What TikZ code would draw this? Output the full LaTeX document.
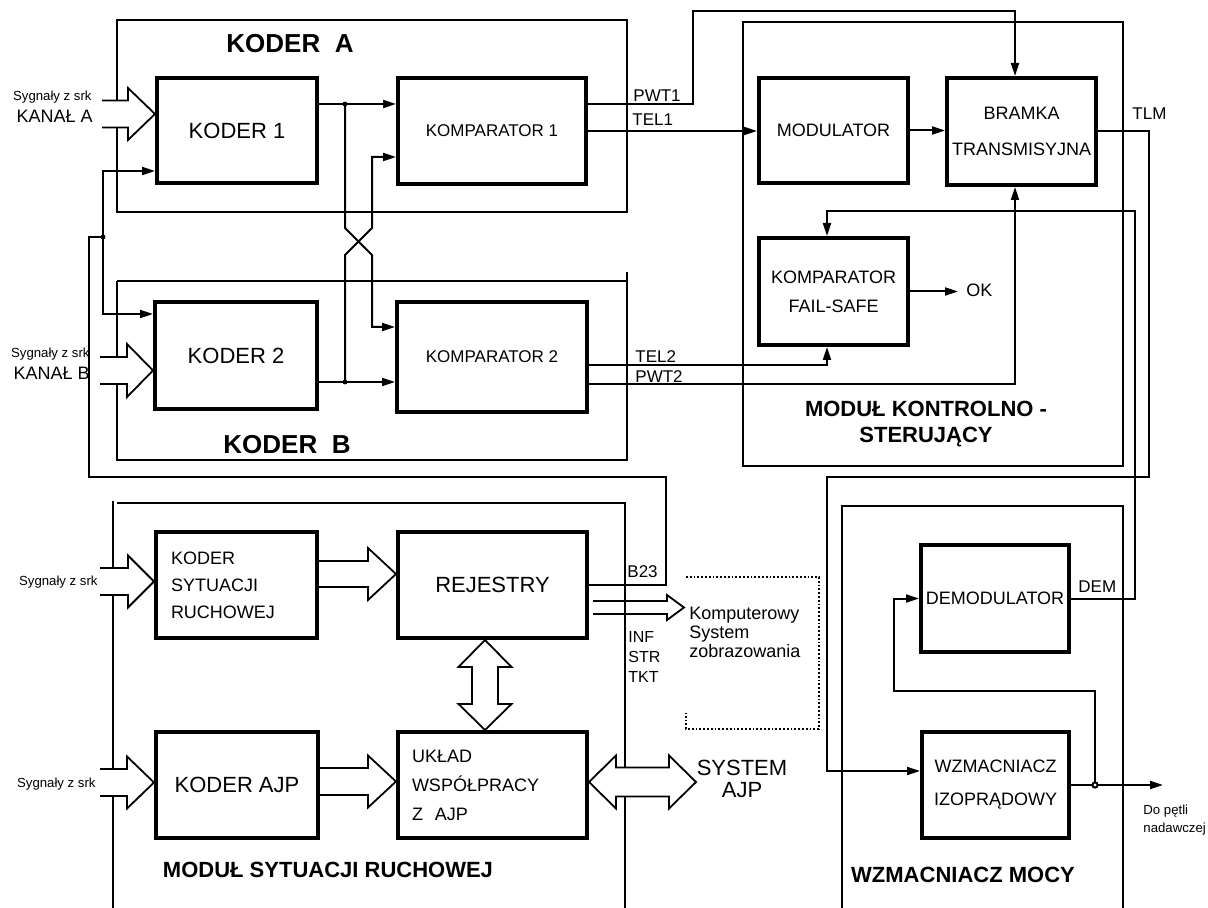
\documentclass[tikz,border=0pt]{standalone}
\usepackage{fontspec}
\setmainfont{Liberation Sans}
\usetikzlibrary{arrows.meta,calc}

% gruba strzalka: start, grot, dl. grota, pol. szyny, pol. grota
\newcommand{\grubaszyna}[5]{%
  \filldraw[gruba] let \p1=#1, \p2=#2 in
    (\x1,\y2+#4) -- (\x2-#3,\y2+#4) -- (\x2-#3,\y2+#5) -- (\x2,\y2)
    -- (\x2-#3,\y2-#5) -- (\x2-#3,\y2-#4) -- (\x1,\y2-#4);}

\tikzset{
  blok/.style={draw, line width=2pt, inner sep=0pt, align=center, font=\fontsize{9}{11}\selectfont},
  duzy/.style={font=\fontsize{11}{13}\selectfont},
  modul/.style={line width=0.65pt},
  pol/.style={line width=1pt},
  strz/.style={-{Triangle[length=6.5pt,width=4pt]}},
  gruba/.style={line width=0.9pt, fill=white},
  kropki/.style={line width=0.9pt, densely dotted},
  opis/.style={inner sep=0pt, font=\fontsize{8.5}{10}\selectfont},
  maly/.style={inner sep=0pt, font=\fontsize{6.6}{9}\selectfont},
  tytul/.style={inner sep=0pt, font=\bfseries\fontsize{11}{13}\selectfont},
}

\begin{document}
\begin{tikzpicture}[x=0.5pt, y=-0.5pt]
    \useasboundingbox (0,0) rectangle (1208,908);

    % bloki
    \node[blok, duzy, minimum width=80pt, minimum height=52.5pt] (kod1) at (237,130.5) {KODER 1};
    \node[blok, font=\fontsize{8.5}{10}\selectfont, minimum width=94pt, minimum height=53pt] (kom1) at (492,131) {KOMPARATOR 1};
    \node[blok, duzy, minimum width=81pt, minimum height=53.5pt] (kod2) at (236,355.5) {KODER 2};
    \node[blok, font=\fontsize{8.5}{10}\selectfont, minimum width=95pt, minimum height=55pt] (kom2) at (492,357) {KOMPARATOR 2};
    \node[blok, minimum width=74.5pt, minimum height=52.5pt] (mod) at (833.5,130.5) {MODULATOR};
    \node[blok, minimum width=74.5pt, minimum height=53.5pt] (bram) at (1021.5,131.5) {BRAMKA\\[7pt]TRANSMISYJNA};
    \node[blok, minimum width=74.5pt, minimum height=53.5pt] (fs) at (833.5,291.5) {KOMPARATOR\\[3.5pt]FAIL-SAFE};
    \node[blok, align=left, text width=65.5pt, inner xsep=7.5pt, minimum height=53pt] (syt) at (236.5,585) {KODER\\[2.5pt]SYTUACJI\\[2.5pt]RUCHOWEJ};
    \node[blok, duzy, minimum width=94.5pt, minimum height=53pt] (rej) at (492.5,585) {REJESTRY};
    \node[blok, duzy, minimum width=81pt, minimum height=53pt] (ajp) at (237,785) {KODER AJP};
    \node[blok, align=left, text width=80.5pt, inner xsep=7pt, minimum height=53pt] (ukl) at (492.5,785) {UKŁAD\\[3.5pt]WSPÓŁPRACY\\[3.5pt]Z\ \ AJP};
    \node[blok, minimum width=74pt, minimum height=53.5pt] (dem) at (995,598.5) {DEMODULATOR};
    \node[blok, minimum width=73.5pt, minimum height=53pt] (wzm) at (995.5,785) {WZMACNIACZ\\[5.5pt]IZOPRĄDOWY};

    % do systemu zobrazowania
    \coordinate (kz) at (684,607.5);
    \grubaszyna{([xshift=2pt]rej.east)}{(kz)}{8.5pt}{3.25pt}{6.25pt}

    % moduly
    \draw[modul] (117,20) rectangle (627,212);
    \draw[modul] (117,281) -- (628,281);
    \draw[modul] (117,281) -- (117,460) -- (627,460) -- (627,272);
    \draw[modul] (743,22) rectangle (1123,466);
    \draw[modul] (113,501) -- (113,908);
    \draw[modul] (117,503) -- (625,503) -- (625,908);
    \draw[modul] (842,908) -- (842,506) -- (1123,506) -- (1123,908);
    \draw[kropki] (686,577) -- (819,577) -- (819,729) -- (686,729) -- (686,713);

    % wejscia
    \coordinate (sA) at (102,114);
    \coordinate (sB) at (100,370);
    \coordinate (sS) at (100,581);
    \coordinate (sJ) at (100,782);
    \grubaszyna{(sA)}{([yshift=8.25pt]kod1.west)}{13.5pt}{6.75pt}{13pt}
    \grubaszyna{(sB)}{([yshift=-7.5pt]kod2.west)}{13pt}{6.75pt}{13.25pt}
    \grubaszyna{(sS)}{([yshift=1.75pt]syt.west)}{13pt}{6.75pt}{13pt}
    \grubaszyna{(sJ)}{([yshift=1.25pt]ajp.west)}{13.5pt}{6.75pt}{13pt}
    \grubaszyna{(syt.east)}{([yshift=5.5pt]rej.west)}{14pt}{6.5pt}{13pt}
    \grubaszyna{(ajp.east)}{([yshift=1.75pt]ukl.west)}{14pt}{6.75pt}{13pt}

    % rejestry <-> uklad
    \filldraw[gruba] let \p1=([xshift=-3.75pt]rej.south), \p2=([xshift=-3.75pt]ukl.north) in
        (\p1) -- (\x1+13.25pt,\y1-13.5pt) -- (\x1+6.5pt,\y1-13.5pt) -- (\x2+6.5pt,\y2+13pt)
        -- (\x2+13.25pt,\y2+13pt) -- (\p2) -- (\x2-13.25pt,\y2+13pt) -- (\x2-6.5pt,\y2+13pt)
        -- (\x1-6.5pt,\y1-13.5pt) -- (\x1-13.25pt,\y1-13.5pt) -- cycle;
    % uklad <-> system AJP
    \coordinate (wajp) at (696,782);
    \filldraw[gruba] let \p1=([yshift=1.5pt]ukl.east), \p2=(wajp) in
        (\p1) -- (\x1+13.5pt,\y1+13.25pt) -- (\x1+13.5pt,\y1+7.25pt) -- (\x2-13.5pt,\y1+7.25pt)
        -- (\x2-13.5pt,\y1+13.25pt) -- (\x2,\y1) -- (\x2-13.5pt,\y1-13.25pt) -- (\x2-13.5pt,\y1-7.25pt)
        -- (\x1+13.5pt,\y1-7.25pt) -- (\x1+13.5pt,\y1-13.25pt) -- cycle;

    % koder -> komparator, krzyzowanie
    \coordinate (d1) at (345,104);
    \coordinate (d2) at (345,382);
    \draw[pol, strz] (kod1.east |- d1) -- (kom1.west |- d1);
    \draw[pol, strz] (kod2.east |- d2) -- (kom2.west |- d2);
    \draw[pol, strz] (d1) -- ++(0,124) -- ++(27,27) |- ([yshift=15pt]kom2.west);
    \draw[pol, strz] (d2) -- ++(0,-127) -- ++(27,-27) |- ([yshift=-13pt]kom1.west);
    \fill (d1) circle (1.2pt);
    \fill (d2) circle (1.2pt);

    % komparatory -> modul kontrolno-sterujacy
    \coordinate (pw) at (693,11);
    \draw[pol, strz] (kom1.east) -- (kom1.east -| mod.west);
    \draw[pol, strz] ([yshift=13.5pt]kom1.east) -| (pw) -| ([xshift=-3.25pt]bram.north);
    \draw[pol, strz] (mod.east) -- (mod.east -| bram.west);
    \draw[pol, strz] ([yshift=-4pt]kom2.east) -| ([xshift=-3.25pt]fs.south);
    \draw[pol, strz] ([yshift=-13.5pt]kom2.east) -| ([xshift=-3.25pt]bram.south);

    % TLM i DEM
    \coordinate (t1) at (1149,477);
    \coordinate (t2) at (827,771);
    \coordinate (m1) at (1135,211);
    \draw[pol, strz] (bram.east) -| (t1) -| (t2) -- (wzm.west |- t2);
    \draw[pol, strz] (dem.east) -| (m1) -| ([xshift=-3.25pt]fs.north);

    \node[opis, font=\fontsize{9}{11}\selectfont, anchor=base west] (ok) at (966,297) {OK};
    \draw[pol, strz, shorten >=4pt] (fs.east) -- (fs.east -| ok.west);

    % wyjscie wzmacniacza
    \coordinate (jn) at (1095,785);
    \coordinate (lp) at (894,691);
    \coordinate (wy) at (1163,785);
    \draw[pol, strz] (wzm.east) -- (wy);
    \draw[pol, strz] (jn) |- (lp) |- (dem.west);
    \filldraw[pol, fill=white] (jn) circle (1.3pt);

    % B23
    \coordinate (b1) at (666,477);
    \coordinate (b2) at (89,237);
    \coordinate (d3) at (103,237);
    \draw[pol] (rej.east) -| (b1) -| (b2) -- (d3);
    \draw[pol, strz] (d3) |- ([yshift=-20.25pt]kod1.west);
    \draw[pol, strz] (d3) |- ([yshift=20.75pt]kod2.west);
    \fill (d3) circle (1.2pt);

    % opisy
    \node[maly, anchor=base east] (sygA) at (92,101) {Sygnały z srk};
    \node[opis, font=\fontsize{9}{11}\selectfont, anchor=base east] (kanA) at (93,123) {KANAŁ A};
    \node[maly, anchor=base east] (sygB) at (90,358) {Sygnały z srk};
    \node[opis, font=\fontsize{9}{11}\selectfont, anchor=base east] (kanB) at (90,380) {KANAŁ B};
    \node[maly, anchor=base east] (sygS) at (98,585) {Sygnały z srk};
    \node[maly, anchor=base east] (sygJ) at (96,787) {Sygnały z srk};

    \node[opis, anchor=base west] (pwt1) at (633,102) {PWT1};
    \node[opis, anchor=base west] (tel1) at (632,126) {TEL1};
    \node[opis, anchor=base west] (tel2) at (635,363) {TEL2};
    \node[opis, anchor=base west] (pwt2) at (635,383) {PWT2};
    \node[opis, anchor=base west] (tlm) at (1132,120) {TLM};
    \node[opis, anchor=base west] (deml) at (1078,592) {DEM};
    \node[opis, anchor=base west] (b23) at (627,577) {B23};
    \node[opis, font=\fontsize{8}{10}\selectfont, align=left, anchor=north west] (inf) at (628,631.5) {INF\\STR\\TKT};
    \node[opis, font=\fontsize{9}{9.5}\selectfont, align=left, anchor=north west] (ksz) at (689,607) {Komputerowy\\System\\zobrazowania};
    \node[opis, font=\fontsize{11}{11}\selectfont, align=center, anchor=north] (sajp) at (742,760) {SYSTEM\\AJP};
    \node[maly, align=left, anchor=north west] (pet) at (1143,804.5) {Do pętli\\nadawczej};

    \node[tytul, font=\bfseries\fontsize{13}{15}\selectfont, anchor=base] (tka) at (290,53) {KODER\ \ A};
    \node[tytul, font=\bfseries\fontsize{13}{15}\selectfont, anchor=base] (tkb) at (287,453) {KODER\ \ B};
    \node[tytul, align=center, anchor=north] (tmk) at (926,401) {MODUŁ KONTROLNO -\\STERUJĄCY};
    \node[tytul, anchor=base] (tms) at (328,877) {MODUŁ SYTUACJI RUCHOWEJ};
    \node[tytul, anchor=base] (twm) at (963,882) {WZMACNIACZ MOCY};
\end{tikzpicture}
\end{document}
